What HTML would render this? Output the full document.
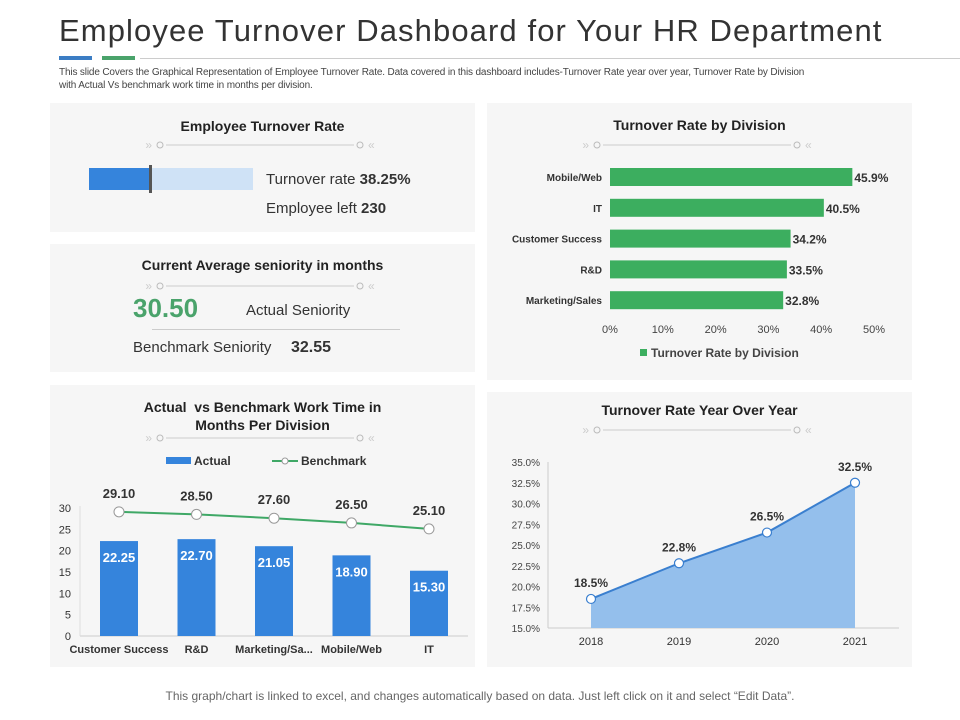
<!DOCTYPE html>
<html><head><meta charset="utf-8">
<style>
body{margin:0;width:960px;height:720px;background:#fff;font-family:"Liberation Sans",sans-serif;position:relative;overflow:hidden;color:#333}
.abs{position:absolute}
.panel{position:absolute;background:#f6f6f6}
.pt{position:absolute;width:100%;text-align:center;font-weight:bold;font-size:14px;color:#222}
</style></head><body>
<div class="abs" style="left:59px;top:13px;font-size:31px;color:#333;letter-spacing:1.1px">Employee Turnover Dashboard for Your HR Department</div>
<div class="abs" style="left:59px;top:56px;width:33px;height:4px;background:#3b7dc4"></div>
<div class="abs" style="left:102px;top:56px;width:33px;height:4px;background:#4aa36b"></div>
<div class="abs" style="left:140px;top:58px;width:820px;height:1px;background:#ccc"></div>
<div class="abs" style="left:59px;top:66px;width:880px;font-size:10px;line-height:13px;color:#444;letter-spacing:-0.15px">This slide Covers the Graphical Representation of Employee Turnover Rate. Data covered in this dashboard includes-Turnover Rate year over year, Turnover Rate by Division<br>with Actual Vs benchmark work time in months per division.</div>

<div class="panel" style="left:50px;top:103px;width:425px;height:129px">
 <div class="pt" style="top:15px">Employee Turnover Rate</div>
 <div class="abs" style="left:39px;top:65px;width:164px;height:22px;background:#cfe2f6"></div>
 <div class="abs" style="left:39px;top:65px;width:61px;height:22px;background:#3584dc"></div>
 <div class="abs" style="left:99px;top:62px;width:3px;height:28px;background:#555"></div>
 <div class="abs" style="left:216px;top:68px;font-size:15px">Turnover rate <b>38.25%</b></div>
 <div class="abs" style="left:216px;top:97px;font-size:15px">Employee left <b>230</b></div>
</div>
<div class="panel" style="left:50px;top:244px;width:425px;height:128px">
 <div class="pt" style="top:13px">Current Average seniority in months</div>
 <div class="abs" style="left:83px;top:49px;font-size:26px;font-weight:bold;color:#4aa36b">30.50</div>
 <div class="abs" style="left:196px;top:58px;font-size:15px">Actual Seniority</div>
 <div class="abs" style="left:102px;top:85px;width:248px;height:1px;background:#ccc"></div>
 <div class="abs" style="left:83px;top:95px;font-size:15px">Benchmark Seniority</div>
 <div class="abs" style="left:241px;top:95px;font-size:16px;font-weight:bold">32.55</div>
</div>
<div class="panel" style="left:50px;top:385px;width:425px;height:282px">
 <div class="pt" style="top:13px;line-height:18px">Actual&nbsp; vs Benchmark Work Time in<br>Months Per Division</div>
</div>
<div class="panel" style="left:487px;top:103px;width:425px;height:277px">
 <div class="pt" style="top:14px">Turnover Rate by Division</div>
</div>
<div class="panel" style="left:487px;top:392px;width:425px;height:275px">
 <div class="pt" style="top:10px">Turnover Rate Year Over Year</div>
</div>

<svg class="abs" style="left:0;top:0" width="960" height="720" id="svg" font-family="Liberation Sans, sans-serif"></svg>
<div class="abs" style="left:0;top:689px;width:960px;text-align:center;font-size:12px;color:#666">This graph/chart is linked to excel, and changes automatically based on data. Just left click on it and select “Edit Data”.</div>

<script>
const divCats=["Mobile/Web","IT","Customer Success","R&D","Marketing/Sales"];
const divVals=[45.9,40.5,34.2,33.5,32.8];
const divTicks=[0,10,20,30,40,50];
const years=["2018","2019","2020","2021"];
const yoyVals=[18.5,22.8,26.5,32.5];
const yoyTicks=[15,17.5,20,22.5,25,27.5,30,32.5,35];
const wtCats=["Customer Success","R&D","Marketing/Sa...","Mobile/Web","IT"];
const actualVals=[22.25,22.70,21.05,18.90,15.30];
const benchVals=[29.10,28.50,27.60,26.50,25.10];
const wtTicks=[0,5,10,15,20,25,30];

const svg=document.getElementById('svg');
const NS='http://www.w3.org/2000/svg';
function mk(tag,attrs,txt){const e=document.createElementNS(NS,tag);for(const k in attrs)e.setAttribute(k,attrs[k]);if(txt!==undefined)e.textContent=txt;svg.appendChild(e);return e;}

// decorative dividers
[[160,145,360],[160,286,360],[160,438,360],[597,145,797],[597,430,797]].forEach(d=>{
 const g=mk('line',{x1:d[0]+6,y1:d[1],x2:d[2]-6,y2:d[1],stroke:'#ccc'});
 
 mk('circle',{cx:d[0],cy:d[1],r:3,fill:'#f6f6f6',stroke:'#bbb'});
 mk('circle',{cx:d[2],cy:d[1],r:3,fill:'#f6f6f6',stroke:'#bbb'});
 mk('text',{x:d[0]-8,y:d[1]+4,'font-size':12,fill:'#ccc','text-anchor':'end'},'»');
 mk('text',{x:d[2]+8,y:d[1]+4,'font-size':12,fill:'#ccc'},'«');
});

// Division chart
const dx=v=>610+v*(874-610)/50;
const dy=i=>177+i*30.8;
divCats.forEach((c,i)=>{
 const t=mk('text',{x:602,y:dy(i)+4,'font-size':10,'font-weight':'bold','text-anchor':'end',fill:'#333'},c);
 
 const r=mk('rect',{x:dx(0),y:dy(i)-9,width:dx(divVals[i])-dx(0),height:18,fill:'#3cae5f'});
 
 mk('text',{x:dx(divVals[i])+2,y:dy(i)+5,'font-size':12,'font-weight':'bold',fill:'#333'},divVals[i].toFixed(1)+'%');
});
divTicks.forEach(v=>{const t=mk('text',{x:dx(v),y:333,'font-size':11,'text-anchor':'middle',fill:'#444'},v+'%');
 });
mk('rect',{x:640,y:349,width:7,height:7,fill:'#3cae5f'});
const dl=mk('text',{x:651,y:357,'font-size':12,'font-weight':'bold',fill:'#444'},'Turnover Rate by Division');


// YoY chart
const yx=i=>591+i*(855-591)/3;
const yy=v=>628-(v-15)*(628-462)/20;
mk('line',{x1:548,y1:462,x2:548,y2:628,stroke:'#ccc'});
mk('line',{x1:548,y1:628,x2:899,y2:628,stroke:'#ccc'});
yoyTicks.forEach(v=>{const t=mk('text',{x:540,y:yy(v)+4,'font-size':10,'text-anchor':'end',fill:'#444'},v.toFixed(1)+'%');
 });
let pts=yoyVals.map((v,i)=>yx(i)+','+yy(v)).join(' ');
const area=mk('polygon',{points:yx(0)+','+yy(15)+' '+pts+' '+yx(3)+','+yy(15),fill:'#94bfec'});

mk('polyline',{points:pts,fill:'none',stroke:'#3a7fcf','stroke-width':2});
yoyVals.forEach((v,i)=>{
 const c=mk('circle',{cx:yx(i),cy:yy(v),r:4.5,fill:'#fff',stroke:'#3a7fcf','stroke-width':1.2});
 
 mk('text',{x:yx(i),y:yy(v)-12,'font-size':12,'font-weight':'bold','text-anchor':'middle',fill:'#333'},v.toFixed(1)+'%');
 mk('text',{x:yx(i),y:645,'font-size':11,'text-anchor':'middle',fill:'#333'},years[i]);
});

// Work time chart
const wx=i=>119+i*77.5;
const wy=v=>636-v*(636-508)/30;
mk('line',{x1:80,y1:636,x2:468,y2:636,stroke:'#ccc'});
mk('line',{x1:80,y1:506,x2:80,y2:636,stroke:'#ddd'});
wtTicks.forEach(v=>{const t=mk('text',{x:71,y:wy(v)+4,'font-size':11,'text-anchor':'end',fill:'#333'},v);
 });
actualVals.forEach((v,i)=>{
 const r=mk('rect',{x:wx(i)-19,y:wy(v),width:38,height:wy(0)-wy(v),fill:'#3584dc'});
 
 mk('text',{x:wx(i),y:wy(v)+21,'font-size':13,'font-weight':'bold','text-anchor':'middle',fill:'#fff'},v.toFixed(2));
 mk('text',{x:wx(i),y:653,'font-size':11,'font-weight':'bold','text-anchor':'middle',fill:'#333'},wtCats[i]);
});
mk('polyline',{points:benchVals.map((v,i)=>wx(i)+','+wy(v)).join(' '),fill:'none',stroke:'#3fa866','stroke-width':2});
benchVals.forEach((v,i)=>{
 const c=mk('circle',{cx:wx(i),cy:wy(v),r:5,fill:'#fff',stroke:'#999'});
 
 mk('text',{x:wx(i),y:wy(v)-14,'font-size':13,'font-weight':'bold','text-anchor':'middle',fill:'#333'},v.toFixed(2));
});
mk('rect',{x:166,y:457,width:25,height:7,fill:'#3584dc'});
mk('text',{x:194,y:465,'font-size':12,'font-weight':'bold',fill:'#333'},'Actual');
mk('line',{x1:272,y1:461,x2:298,y2:461,stroke:'#3fa866','stroke-width':2});
mk('circle',{cx:285,cy:461,r:3,fill:'#fff',stroke:'#999'});
mk('text',{x:301,y:465,'font-size':12,'font-weight':'bold',fill:'#333'},'Benchmark');
</script>
</body></html>
